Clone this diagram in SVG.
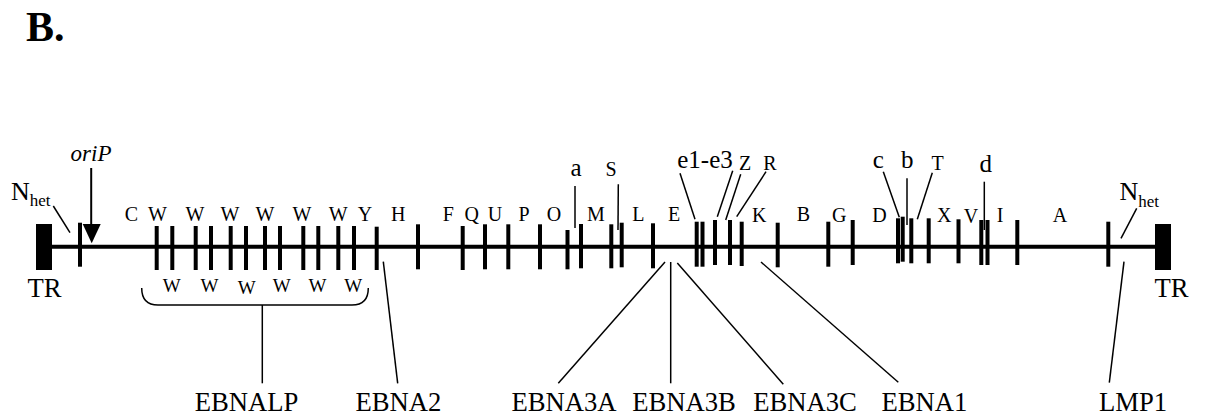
<svg xmlns="http://www.w3.org/2000/svg" width="1205" height="419" viewBox="0 0 1205 419" font-family="'Liberation Serif', 'Times New Roman', serif">
  <style>
    text { font-family: 'Liberation Serif', 'Times New Roman', serif; fill: #000; }
    .seg { font-size: 20px; text-anchor: middle; }
    .segw { font-size: 19px; text-anchor: middle; }
    .lc { font-size: 25px; text-anchor: middle; }
    .gene { font-size: 26.67px; text-anchor: middle; }
    .tick { stroke: #000; stroke-width: 4; fill: none; }
    .lead { stroke: #000; stroke-width: 1.5; fill: none; }
  </style>
  <rect width="1205" height="419" fill="#fff"/>

  <text x="26" y="41" font-size="42" font-weight="bold">B.</text>

  <!-- genome backbone with terminal repeats -->
  <g id="backbone">
    <line x1="52" y1="246.7" x2="1155" y2="246.7" stroke="#000" stroke-width="4"/>
    <rect x="36" y="224" width="16" height="46" fill="#000"/>
    <rect x="1155" y="224" width="16" height="46" fill="#000"/>
    <text class="gene" x="44.5" y="296.5">TR</text>
    <text class="gene" x="1171.5" y="296.5">TR</text>
  </g>

  <!-- BamHI fragment boundaries -->
  <g id="ticks" class="tick">
    <line x1="80" y1="222.7" x2="80" y2="266.7"/>
    <line x1="156.7" y1="226" x2="156.7" y2="270"/>
    <line x1="172.3" y1="226" x2="172.3" y2="270"/>
    <line x1="195.7" y1="226" x2="195.7" y2="270"/>
    <line x1="211" y1="226" x2="211" y2="270"/>
    <line x1="230.7" y1="226" x2="230.7" y2="270"/>
    <line x1="246" y1="226" x2="246" y2="270"/>
    <line x1="265" y1="226" x2="265" y2="270"/>
    <line x1="280" y1="226" x2="280" y2="270"/>
    <line x1="303.3" y1="226" x2="303.3" y2="270"/>
    <line x1="318.3" y1="226" x2="318.3" y2="270"/>
    <line x1="338.3" y1="226" x2="338.3" y2="270"/>
    <line x1="354" y1="226" x2="354" y2="270"/>
    <line x1="376.7" y1="226.7" x2="376.7" y2="270"/>
    <line x1="418" y1="224.3" x2="418" y2="269.3"/>
    <line x1="462.7" y1="226" x2="462.7" y2="270"/>
    <line x1="485" y1="224.3" x2="485" y2="269.3"/>
    <line x1="508.3" y1="224.3" x2="508.3" y2="269.3"/>
    <line x1="540" y1="224.3" x2="540" y2="269.3"/>
    <line x1="567.5" y1="230" x2="567.5" y2="269.3"/>
    <line x1="581" y1="224" x2="581" y2="268.3"/>
    <line x1="611.3" y1="224.3" x2="611.3" y2="268.3"/>
    <line x1="621.7" y1="222.7" x2="621.7" y2="267.3"/>
    <line x1="653" y1="223.3" x2="653" y2="268.3"/>
    <line x1="696.7" y1="221.7" x2="696.7" y2="266.7"/>
    <line x1="702.5" y1="221.7" x2="702.5" y2="266.7"/>
    <line x1="715" y1="220" x2="715" y2="265"/>
    <line x1="730" y1="220" x2="730" y2="265"/>
    <line x1="741.7" y1="221.7" x2="741.7" y2="266"/>
    <line x1="777.7" y1="222.7" x2="777.7" y2="267.3"/>
    <line x1="828.3" y1="221.7" x2="828.3" y2="266.7"/>
    <line x1="852.7" y1="220" x2="852.7" y2="265"/>
    <line x1="898" y1="218.3" x2="898" y2="263.3"/>
    <line x1="902.7" y1="216.7" x2="902.7" y2="261.7"/>
    <line x1="911.3" y1="218.3" x2="911.3" y2="263.3"/>
    <line x1="928.7" y1="218.3" x2="928.7" y2="263.3"/>
    <line x1="958.5" y1="219.3" x2="958.5" y2="263.3"/>
    <line x1="981.3" y1="220" x2="981.3" y2="265"/>
    <line x1="987.5" y1="220" x2="987.5" y2="265"/>
    <line x1="1017.3" y1="220" x2="1017.3" y2="265"/>
    <line x1="1108.3" y1="221.7" x2="1108.3" y2="266.7"/>
  </g>

  <!-- fragment names above and below the backbone -->
  <g id="fragment-labels">
    <text class="seg" x="131.5" y="221">C</text>
    <text class="seg" x="157.5" y="221">W</text>
    <text class="seg" x="195" y="221">W</text>
    <text class="seg" x="230" y="221">W</text>
    <text class="seg" x="265" y="221">W</text>
    <text class="seg" x="302" y="221">W</text>
    <text class="seg" x="338.3" y="221">W</text>
    <text class="seg" x="365" y="221">Y</text>
    <text class="seg" x="398.3" y="221">H</text>
    <text class="seg" x="448.3" y="221">F</text>
    <text class="seg" x="471.7" y="221">Q</text>
    <text class="seg" x="495" y="221">U</text>
    <text class="seg" x="524" y="221">P</text>
    <text class="seg" x="554" y="221">O</text>
    <text class="seg" x="596" y="221">M</text>
    <text class="seg" x="638.3" y="221">L</text>
    <text class="seg" x="674" y="221">E</text>
    <text class="seg" x="759.3" y="222">K</text>
    <text class="seg" x="803.3" y="221">B</text>
    <text class="seg" x="839.3" y="221.7">G</text>
    <text class="seg" x="879.5" y="221.7">D</text>
    <text class="seg" x="944.3" y="221.7">X</text>
    <text class="seg" x="971" y="222.5">V</text>
    <text class="seg" x="1000" y="221.7">I</text>
    <text class="seg" x="1060" y="221.7">A</text>

    <text class="segw" x="171.7" y="291.5">W</text>
    <text class="segw" x="209.5" y="291.5">W</text>
    <text class="segw" x="246.7" y="294">W</text>
    <text class="segw" x="281.7" y="291.5">W</text>
    <text class="segw" x="317.5" y="291.5">W</text>
    <text class="segw" x="353.2" y="291.5">W</text>
  </g>

  <!-- small fragments with leaders -->
  <g id="small-fragments">
    <text class="lc" x="576" y="176">a</text>
    <line class="lead" x1="575" y1="186" x2="575" y2="228"/>
    <text class="seg" x="611" y="176">S</text>
    <line class="lead" x1="618.3" y1="184.3" x2="618" y2="230"/>
    <text class="lc" x="705" y="167.5">e1-e3</text>
    <line class="lead" x1="680" y1="173.3" x2="695" y2="219.3"/>
    <line class="lead" x1="732.7" y1="170.7" x2="717.3" y2="216.7"/>
    <text class="seg" x="745" y="169.5">Z</text>
    <line class="lead" x1="740.7" y1="174.3" x2="725.7" y2="220"/>
    <text class="seg" x="770" y="169.5">R</text>
    <line class="lead" x1="766" y1="171.7" x2="736.7" y2="216.7"/>
    <text class="lc" x="878.3" y="168.3">c</text>
    <line class="lead" x1="883.3" y1="171.7" x2="899.3" y2="217.3"/>
    <text class="lc" x="907.3" y="168">b</text>
    <line class="lead" x1="907" y1="178.3" x2="907" y2="225"/>
    <text class="seg" x="937.5" y="169.5">T</text>
    <line class="lead" x1="932.3" y1="172.7" x2="917.3" y2="219.3"/>
    <text class="lc" x="985.7" y="171.7">d</text>
    <line class="lead" x1="984.3" y1="181.7" x2="984.3" y2="230"/>
  </g>

  <!-- origin and Nhet markers -->
  <g id="oriP">
    <text x="91" y="161" font-size="23" font-style="italic" text-anchor="middle">oriP</text>
    <line x1="91.2" y1="168" x2="91.2" y2="226" stroke="#000" stroke-width="2"/>
    <polygon points="82.7,224 100.7,224 91.7,243.3" fill="#000"/>
  </g>
  <g id="nhet-left">
    <text x="11" y="199.5" font-size="26">N<tspan font-size="17" dy="6">het</tspan></text>
    <line class="lead" x1="53.3" y1="206" x2="70" y2="232.7"/>
  </g>
  <g id="nhet-right">
    <text x="1119.5" y="200" font-size="26">N<tspan font-size="17" dy="7">het</tspan></text>
    <line class="lead" x1="1136.7" y1="208.3" x2="1121" y2="238.3"/>
  </g>

  <!-- brace grouping the W repeats -->
  <g id="w-brace">
    <path class="lead" d="M141.7,288 Q141.7,305 158,305 L352,305 Q368.3,305 368.3,288"/>
    <line class="lead" x1="262.3" y1="305" x2="262.3" y2="383.3"/>
  </g>

  <!-- latent gene leaders -->
  <g id="connectors">
    <line class="lead" x1="383.3" y1="261.7" x2="397.7" y2="383.3"/>
    <line class="lead" x1="665" y1="262" x2="558.3" y2="383.3"/>
    <line class="lead" x1="670.7" y1="262" x2="670.7" y2="383.3"/>
    <line class="lead" x1="677.3" y1="263" x2="783.3" y2="384.3"/>
    <line class="lead" x1="761" y1="262" x2="898.3" y2="382.3"/>
    <line class="lead" x1="1124" y1="261.7" x2="1109.3" y2="382.7"/>
  </g>

  <g id="genes">
    <text class="gene" x="246.5" y="411">EBNALP</text>
    <text class="gene" x="398.5" y="411">EBNA2</text>
    <text class="gene" x="564" y="411">EBNA3A</text>
    <text class="gene" x="684" y="411">EBNA3B</text>
    <text class="gene" x="805" y="411">EBNA3C</text>
    <text class="gene" x="924.5" y="411">EBNA1</text>
    <text class="gene" x="1133" y="411">LMP1</text>
  </g>
</svg>
